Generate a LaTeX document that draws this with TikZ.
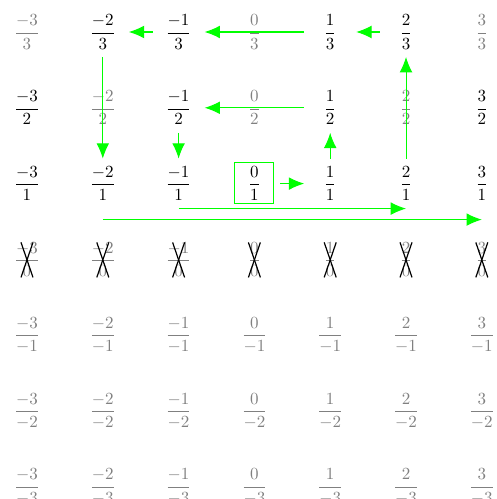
\documentclass[tikz,border=0pt]{standalone}
\usepackage{amsmath}
\usetikzlibrary{arrows.meta}
\definecolor{arrgreen}{RGB}{0,255,0}
\tikzset{
  frac/.style={inner sep=0pt,outer sep=0pt,minimum width=30.6pt,minimum height=29.4pt},
  g/.style={text=gray},
  k/.style={text=black},
  arr/.style={draw=arrgreen,line width=0.6pt,-{Latex[length=9pt,width=7.5pt]}},
  hilite/.style={draw=arrgreen,line width=0.6pt},
  crossout/.style={draw=black,line width=0.7pt}
}
\begin{document}
\begin{tikzpicture}[x=0.588pt,y=-0.588pt]
\useasboundingbox (0,0) rectangle (496,499);
\foreach \j/\q/\cols in {0/3/{g,k,k,g,k,k,g},1/2/{k,g,k,g,k,g,k},2/1/{k,k,k,k,k,k,k},3/0/{g,g,g,g,g,g,g},4/-1/{g,g,g,g,g,g,g},5/-2/{g,g,g,g,g,g,g},6/-3/{g,g,g,g,g,g,g}}{
  \foreach \c [count=\ii from 0] in \cols {
    \pgfmathtruncatemacro\p{\ii-3}
    \node[frac,\c] (n\ii\j) at ({27+75.8*\ii},{32+75.8*\j}) {$\dfrac{\p}{\q}$};
  }
}
% crossed-out row
\foreach \ii in {0,...,6}{
  \draw[crossout] ([shift={(-6,-17)}]n\ii3.center) -- ([shift={(6,18)}]n\ii3.center);
  \draw[crossout] ([shift={(6,-17)}]n\ii3.center) -- ([shift={(-6,18)}]n\ii3.center);
}
% box round 0/1
\draw[hilite] ([shift={(-20,-21.5)}]n32.center) rectangle ([shift={(19,19.5)}]n32.center);
% enumeration path
\draw[arr] (n32.east) -- (n42.west);
\draw[arr] (n42.north) -- (n41.south);
\draw[arr] (n41.west) -- (n21.east);
\draw[arr] (n21.south) -- (n22.north);
\draw[arr] (n22.south) -- (n52.south);
\draw[arr] (n52.north) -- (n50.south);
\draw[arr] (n50.west) -- (n40.east);
\draw[arr] (n40.west) -- (n20.east);
\draw[arr] (n20.west) -- (n10.east);
\draw[arr] (n10.south) -- (n12.north);
\draw[arr] ([shift={(0,11)}]n12.south) -- ([shift={(0,11)}]n62.south);
\end{tikzpicture}
\end{document}
